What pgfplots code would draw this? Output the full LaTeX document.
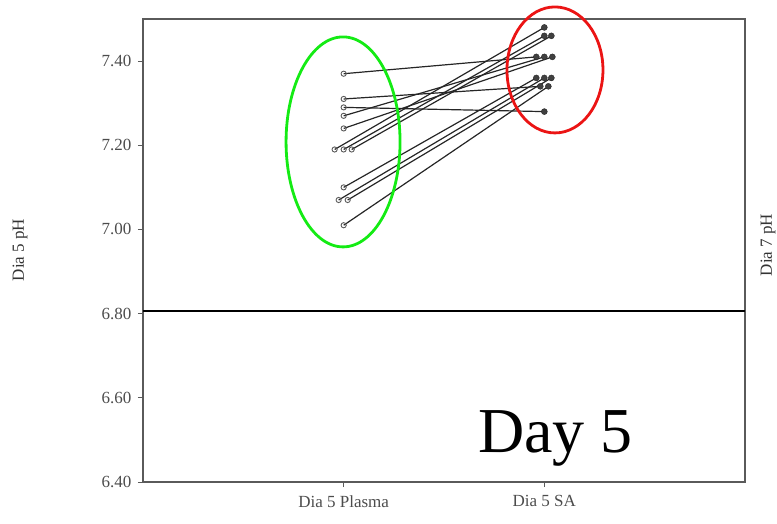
\documentclass[border=0pt]{standalone}
\usepackage{pgfplots}
\pgfplotsset{compat=1.18}
\usepackage{fontspec}
\setmainfont{Liberation Serif}
\definecolor{ellgreen}{RGB}{20,235,20}
\definecolor{ellred}{RGB}{235,20,20}
\definecolor{axgray}{RGB}{90,90,90}
\begin{document}
\begin{tikzpicture}[x=1pt,y=1pt]
\path[use as bounding box] (0,0) rectangle (777,523);
\begin{axis}[
  at={(143pt,41pt)}, anchor=south west,
  scale only axis, width=602pt, height=463pt,
  xmin=0, xmax=3, ymin=6.40, ymax=7.50,
  clip=false,
  axis line style={axgray, line width=1.8pt},
  xtick={1,2}, xticklabels={Dia 5 Plasma, Dia 5 SA},
  ytick={6.4,6.6,6.8,7.0,7.2,7.4},
  yticklabel style={/pgf/number format/fixed, /pgf/number format/fixed zerofill, /pgf/number format/precision=2},
  /pgf/number format/assume math mode=true,
  xtick pos=bottom, ytick pos=left, tick align=outside,
  major tick length=5pt,
  tick style={axgray, line width=0.8pt},
  tick label style={font=\fontsize{17}{20}\selectfont, text=black!70},
  xticklabel style={yshift=-5pt},
  yticklabel style={xshift=-3pt},
]
% connecting lines (Plasma -> SA)
\addplot[black!85, line width=1.2pt] coordinates {(1.00,7.37) (1.96,7.41)};
\addplot[black!85, line width=1.2pt] coordinates {(1.00,7.31) (1.98,7.34)};
\addplot[black!85, line width=1.2pt] coordinates {(1.00,7.29) (2.00,7.28)};
\addplot[black!85, line width=1.2pt] coordinates {(1.00,7.27) (2.00,7.41)};
\addplot[black!85, line width=1.2pt] coordinates {(1.00,7.24) (2.04,7.41)};
\addplot[black!85, line width=1.2pt] coordinates {(0.955,7.19) (2.00,7.48)};
\addplot[black!85, line width=1.2pt] coordinates {(1.00,7.19) (2.00,7.46)};
\addplot[black!85, line width=1.2pt] coordinates {(1.04,7.19) (2.035,7.46)};
\addplot[black!85, line width=1.2pt] coordinates {(1.00,7.10) (1.96,7.36)};
\addplot[black!85, line width=1.2pt] coordinates {(0.975,7.07) (2.00,7.36)};
\addplot[black!85, line width=1.2pt] coordinates {(1.02,7.07) (2.035,7.36)};
\addplot[black!85, line width=1.2pt] coordinates {(1.00,7.01) (2.02,7.34)};
% Plasma points (open)
\addplot[only marks, mark=o, mark size=2.6pt, mark options={draw=black!65, fill=white, line width=0.9pt}] coordinates {
(1.00,7.37) (1.00,7.31) (1.00,7.29) (1.00,7.27) (1.00,7.24)
(0.955,7.19) (1.00,7.19) (1.04,7.19) (1.00,7.10) (0.975,7.07) (1.02,7.07) (1.00,7.01)};
% SA points (filled)
\addplot[only marks, mark=*, mark size=3pt, mark options={draw=black!85, fill=black!75}] coordinates {
(2.00,7.48) (2.00,7.46) (2.035,7.46) (1.96,7.41) (2.00,7.41) (2.04,7.41)
(1.96,7.36) (2.00,7.36) (2.035,7.36) (1.98,7.34) (2.02,7.34) (2.00,7.28)};
% reference line
\addplot[black, line width=2.0pt] coordinates {(0,6.807) (3,6.807)};
% ellipses
\draw[ellgreen, line width=2.8pt] (axis cs:0.997,7.208) ellipse [x radius=57pt, y radius=105pt];
\draw[ellred, line width=2.8pt] (axis cs:2.053,7.379) ellipse [x radius=48pt, y radius=63pt];
\end{axis}
\node[rotate=90, font=\fontsize{17}{20}\selectfont, text=black!80] at (20,273) {Dia 5 pH};
\node[rotate=90, font=\fontsize{17}{20}\selectfont, text=black!80] at (768,278) {Dia 7 pH};
\node[anchor=base west, font=\fontsize{64}{70}\selectfont, inner sep=0pt] at (478,71) {Day 5};
\end{tikzpicture}
\end{document}
